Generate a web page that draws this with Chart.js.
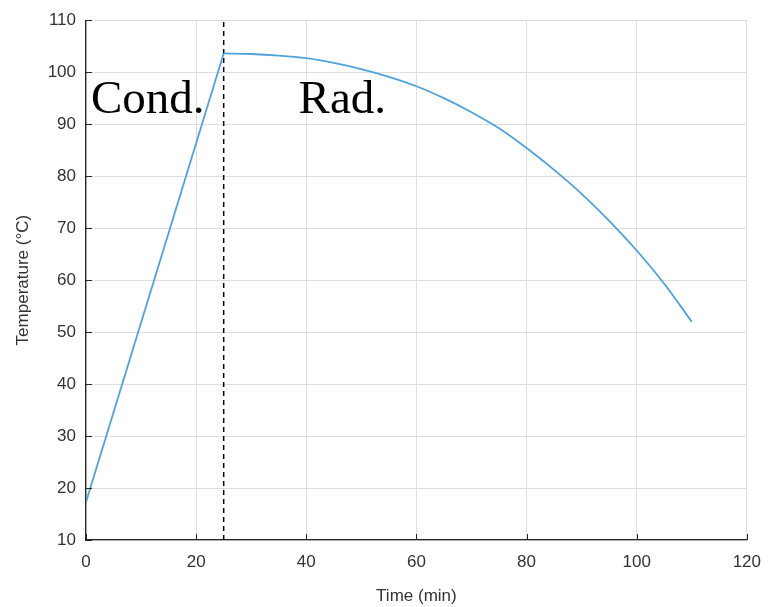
<!DOCTYPE html>
<html>
<head>
<meta charset="utf-8">
<script src="https://cdn.jsdelivr.net/npm/chart.js@4/dist/chart.umd.min.js"></script>
<style>
  html, body { margin: 0; padding: 0; background: #fff; }
  #wrap { width: 773px; height: 607px; }
</style>
</head>
<body>
<div id="wrap"><canvas id="temp"></canvas></div>
<script>
// conduction phase: straight ramp
const heatTime = [0, 25]
const heatTemp = [17.3, 103.6]
// radiation phase: cooling curve
const coolTime = [25, 30, 35, 40, 45, 50, 55, 60, 65, 70, 75, 80, 85, 90, 95, 100, 105, 110]
const coolTemp = [103.6, 103.5, 103.2, 102.7, 101.8, 100.6, 99.1, 97.3, 95.0, 92.3, 89.2, 85.4, 81.2, 76.6, 71.4, 65.7, 59.3, 52.0]

// dashed divider between the two phases
const dividerX = [25, 25]
const dividerY = [10, 110]

const phaseLabels = ['Cond.', 'Rad.']

const axisColor = '#262626'
const gridColor = '#dedede'
const lineColor = '#4ea2dd'

// text labels placed in data coordinates
const phaseText = {
    id: 'phaseText',
    afterDatasetsDraw(chart, args, opts) {
        const ctx = chart.ctx
        const xs = chart.scales.x, ys = chart.scales.y
        ctx.save()
        ctx.font = '47px "Liberation Serif", "Times New Roman", serif'
        ctx.fillStyle = '#000'
        ctx.textAlign = 'left'
        ctx.textBaseline = 'alphabetic'
        opts.items.forEach((it, i) => {
            ctx.fillText(phaseLabels[i], xs.getPixelForValue(it.x), ys.getPixelForValue(it.y))
        })
        ctx.restore()
    }
}

// MATLAB style tick marks pointing into the plot
const innerTicks = {
    id: 'innerTicks',
    afterDraw(chart) {
        const ctx = chart.ctx
        const a = chart.chartArea
        const xs = chart.scales.x, ys = chart.scales.y
        ctx.save()
        ctx.strokeStyle = axisColor
        ctx.lineWidth = 1
        ctx.beginPath()
        xs.ticks.forEach(t => {
            const px = Math.round(xs.getPixelForValue(t.value)) + 0.5
            ctx.moveTo(px, a.bottom)
            ctx.lineTo(px, a.bottom - 6)
        })
        ys.ticks.forEach(t => {
            const py = Math.round(ys.getPixelForValue(t.value)) + 0.5
            ctx.moveTo(a.left, py)
            ctx.lineTo(a.left + 6, py)
        })
        ctx.stroke()
        ctx.restore()
    }
}

Chart.defaults.font.family = '"Liberation Sans", Arial, Helvetica, sans-serif'
Chart.defaults.color = '#333333'

const toXY = (xs, ys) => xs.map((t, i) => ({ x: t, y: ys[i] }))

new Chart('temp', {
    type: 'line',
    data: {
        datasets: [{
            data: toXY(heatTime, heatTemp),
            borderColor: lineColor,
            borderWidth: 1.8,
            pointRadius: 0,
            tension: 0,
            fill: false
        }, {
            data: toXY(coolTime, coolTemp),
            borderColor: lineColor,
            borderWidth: 1.8,
            pointRadius: 0,
            cubicInterpolationMode: 'monotone',
            fill: false
        }, {
            data: toXY(dividerX, dividerY),
            borderColor: '#000',
            borderWidth: 1.5,
            borderDash: [5, 4],
            pointRadius: 0,
            fill: false
        }]
    },
    options: {
        responsive: true,
        maintainAspectRatio: false,
        animation: false,
        layout: { padding: { left: 0, top: 16, right: 22, bottom: 0 } },
        plugins: {
            legend: { display: false },
            tooltip: { enabled: false },
            phaseText: { items: [{ x: 0.9, y: 92.1 }, { x: 38.6, y: 92.1 }] }
        },
        scales: {
            x: {
                type: 'linear',
                min: 0, max: 120,
                ticks: { stepSize: 20, font: { size: 17 }, padding: 12, maxRotation: 0 },
                grid: { color: gridColor, drawTicks: false },
                border: { display: true, color: axisColor, width: 1.3 },
                title: { display: true, text: 'Time (min)', font: { size: 17 }, padding: { top: 4, bottom: 0 } },
                afterFit: s => { s.height = 67 }
            },
            y: {
                min: 10, max: 110,
                ticks: { stepSize: 10, font: { size: 17 }, padding: 10 },
                grid: { color: gridColor, drawTicks: false },
                border: { display: true, color: axisColor, width: 1.3 },
                title: { display: true, text: 'Temperature (°C)', font: { size: 17 }, padding: { top: 13, bottom: 6 } },
                afterFit: s => { s.width = 86 }
            }
        }
    },
    plugins: [phaseText, innerTicks]
})
</script>
</body>
</html>
